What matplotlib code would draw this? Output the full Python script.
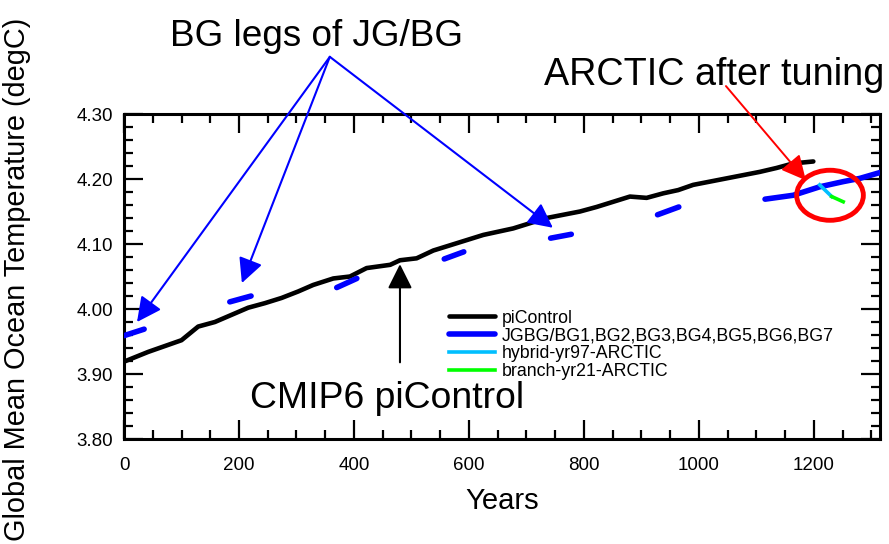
import matplotlib
matplotlib.use("Agg")
import matplotlib.pyplot as plt
from matplotlib.patches import Ellipse
from matplotlib.ticker import MultipleLocator, FormatStrFormatter

# piControl (black)
pi_years = [0, 42, 100, 129, 158, 187, 216, 245, 274, 303, 329, 364, 393, 422,
            463, 480, 509, 538, 567, 596, 625, 651, 677, 706, 735, 764, 793,
            822, 851, 880, 909, 938, 964, 990, 1048, 1106, 1135, 1164, 1199]
pi_temp = [3.919, 3.934, 3.952, 3.973, 3.980, 3.991, 4.002, 4.009, 4.017, 4.027,
           4.037, 4.047, 4.050, 4.063, 4.068, 4.075, 4.078, 4.090, 4.098, 4.106,
           4.114, 4.119, 4.124, 4.132, 4.140, 4.145, 4.150, 4.157, 4.165, 4.173,
           4.171, 4.178, 4.183, 4.191, 4.201, 4.211, 4.217, 4.224, 4.227]

# BG legs of JG/BG (blue), one list per segment
bg_years = [[0, 35], [184, 221], [370, 405], [557, 591], [742, 778], [928, 965],
            [1115, 1164, 1210, 1251, 1280, 1315]]
bg_temp = [[3.959, 3.969], [4.011, 4.020], [4.033, 4.047], [4.077, 4.088],
           [4.109, 4.115], [4.145, 4.157],
           [4.169, 4.175, 4.188, 4.196, 4.201, 4.210]]

hyb_years = [1210, 1231]
hyb_temp = [4.191, 4.173]
br_years = [1231, 1251]
br_temp = [4.173, 4.165]

plt.rcParams["font.family"] = ["Liberation Sans", "DejaVu Sans"]

fig = plt.figure(figsize=(8.89, 5.44), dpi=100)
ax = fig.add_axes([0.1395, 0.193, 0.8504, 0.5974])

ax.plot(pi_years, pi_temp, color="black", lw=3.3, label="piControl",
        solid_capstyle="round", zorder=3)
for i, (xs, ys) in enumerate(zip(bg_years, bg_temp)):
    ax.plot(xs, ys, color="#0000ff", lw=4, solid_capstyle="round", zorder=3,
            label="JGBG/BG1,BG2,BG3,BG4,BG5,BG6,BG7" if i == 0 else None)
ax.plot(hyb_years, hyb_temp, color="#00bfff", lw=2.6, label="hybrid-yr97-ARCTIC", zorder=4)
ax.plot(br_years, br_temp, color="#00ff00", lw=2.6, label="branch-yr21-ARCTIC", zorder=4)

ax.set_xlim(0, 1315)
ax.set_ylim(3.80, 4.30)
ax.xaxis.set_major_locator(MultipleLocator(200))
ax.xaxis.set_minor_locator(MultipleLocator(50))
ax.yaxis.set_major_locator(MultipleLocator(0.1))
ax.yaxis.set_minor_locator(MultipleLocator(0.02))
ax.yaxis.set_major_formatter(FormatStrFormatter("%.2f"))
ax.tick_params(which="both", direction="in", top=True, right=True, width=1.6,
               labelsize=13.5)
ax.tick_params(which="major", length=13.5)
ax.tick_params(which="minor", length=6.5)
ax.tick_params(axis="y", pad=8)
ax.tick_params(axis="x", pad=13)
for sp in ax.spines.values():
    sp.set_linewidth(2.2)

ax.set_xlabel("Years", fontsize=21)
ax.xaxis.set_label_coords(0.5, -0.148)
ax.set_ylabel("Global Mean Ocean Temperature (degC)", fontsize=20.8)
ax.yaxis.set_label_coords(-0.123, 0.49)

ax.legend(loc="upper left", bbox_to_anchor=(0.42, 0.42), frameon=False,
          fontsize=12.8, handlelength=2.6, handletextpad=0.4, labelspacing=0.05,
          borderaxespad=0)

# annotations
ax.add_patch(Ellipse((1228, 4.175), 116, 0.077, fill=False, ec="red", lw=3.5,
                     zorder=5, clip_on=False))
head = "-|>,head_length=1.0,head_width=0.5"
ax.text(457, 3.862, "CMIP6 piControl", fontsize=26.9, ha="center", va="center")
ax.annotate("", xy=(480, 4.069), xytext=(480, 3.918),
            arrowprops=dict(arrowstyle=head, mutation_scale=15, color="black",
                            lw=1.5, shrinkA=0, shrinkB=0))
ax.text(334, 4.42, "BG legs of JG/BG", fontsize=26.6, ha="center", va="center",
        clip_on=False)
for tip in [(22.6, 3.98), (205, 4.040), (746, 4.125)]:
    ax.annotate("", xy=tip, xytext=(358, 4.388), annotation_clip=False,
                arrowprops=dict(arrowstyle=head, mutation_scale=15,
                                color="#0000ff", lw=1.5, shrinkA=0, shrinkB=0))
ax.text(1026, 4.36, "ARCTIC after tuning", fontsize=27.2, ha="center", va="center",
        clip_on=False)
ax.annotate("", xy=(1186, 4.198), xytext=(1047, 4.343), annotation_clip=False,
            arrowprops=dict(arrowstyle=head, mutation_scale=15, color="red",
                            lw=1.4, shrinkA=0, shrinkB=0))

fig.savefig("out.png", dpi=100)
